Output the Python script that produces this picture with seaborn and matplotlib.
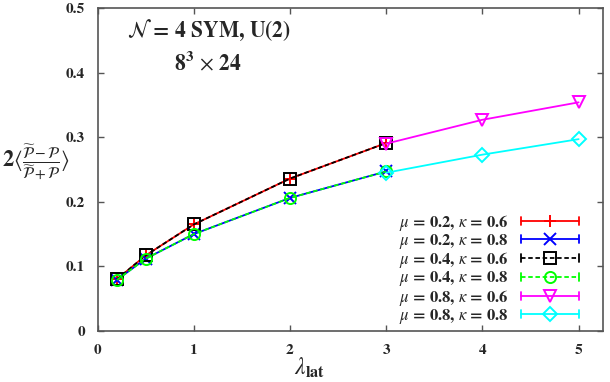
import numpy as np
import pandas as pd
import matplotlib
matplotlib.use("Agg")
import matplotlib.pyplot as plt
import seaborn as sns
from matplotlib.lines import Line2D
from matplotlib.legend_handler import HandlerLine2D

# ---------------- data ----------------
lam_low = [0.2, 0.5, 1, 2, 3]
lam_high = [3, 4, 5]

mu02_k06 = [0.080, 0.117, 0.165, 0.236, 0.291]
mu02_k08 = [0.079, 0.112, 0.150, 0.206, 0.247]
mu04_k06 = [0.080, 0.117, 0.165, 0.236, 0.291]
mu04_k08 = [0.079, 0.112, 0.150, 0.206, 0.247]
mu08_k06 = [0.290, 0.327, 0.354]
mu08_k08 = [0.245, 0.273, 0.297]

labels = [r"$\mu$ = 0.2, $\kappa$ = 0.6",
          r"$\mu$ = 0.2, $\kappa$ = 0.8",
          r"$\mu$ = 0.4, $\kappa$ = 0.6",
          r"$\mu$ = 0.4, $\kappa$ = 0.8",
          r"$\mu$ = 0.8, $\kappa$ = 0.6",
          r"$\mu$ = 0.8, $\kappa$ = 0.8"]

xticks = [0, 1, 2, 3, 4, 5]
yticks = [0, 0.1, 0.2, 0.3, 0.4, 0.5]

# ---------------- style ----------------
sns.set_style("ticks")
plt.rcParams["font.family"] = ["STIXGeneral", "DejaVu Sans"]
plt.rcParams["mathtext.fontset"] = "stix"

fig = plt.figure(figsize=(6.1, 3.82), dpi=100)
ax = fig.add_axes([0.160, 0.1335, 0.828, 0.8455])

series = [
    (lam_low, mu02_k06, "#ff0000", "+", "-", dict()),
    (lam_low, mu02_k08, "#0000ff", "x", "-", dict()),
    (lam_low, mu04_k06, "#000000", "s", (0, (2.5, 1.5)), dict(markerfacecolor="none")),
    (lam_low, mu04_k08, "#00ff00", "o", (0, (2.5, 1.5)), dict(markerfacecolor="none")),
    (lam_high, mu08_k06, "#ff00ff", "v", "-", dict(markerfacecolor="none")),
    (lam_high, mu08_k08, "#00ffff", "D", "-", dict(markerfacecolor="none")),
]

for (xs, ys, c, m, ls, extra), lab in zip(series, labels):
    df = pd.DataFrame({"x": xs, "y": ys})
    ms = 9 if m in "+x" else (8 if m in "sov" else 7)
    sns.lineplot(data=df, x="x", y="y", ax=ax, color=c, marker=m, linestyle=ls,
                 linewidth=1.3, markersize=ms, markeredgecolor=c,
                 markeredgewidth=1.4, label=lab, **extra)


class CapHandler(HandlerLine2D):
    def create_artists(self, legend, orig_handle, xdescent, ydescent,
                       width, height, fontsize, trans):
        arts = super().create_artists(legend, orig_handle, xdescent, ydescent,
                                      width, height, fontsize, trans)
        y = (height - ydescent) / 2.0
        h = 0.24 * fontsize
        for xx in (-xdescent, width - xdescent):
            cap = Line2D([xx, xx], [y - h, y + h], color=orig_handle.get_color(),
                         linewidth=1.3)
            cap.set_transform(trans)
            arts.append(cap)
        return arts


leg = ax.legend(loc="lower right", bbox_to_anchor=(0.976, -0.02),
                handler_map={Line2D: CapHandler()}, markerfirst=False,
                frameon=False, fontsize=12, handlelength=3.5,
                labelspacing=-0.05, handletextpad=0.7, borderpad=0.2)
for t in leg.get_texts():
    t.set_fontweight("bold")

ax.set_xlim(0, 5.25)
ax.set_ylim(0, 0.5)
ax.set_xticks(xticks)
ax.set_yticks(yticks)
ax.set_xticklabels([str(v) for v in xticks], fontweight="bold", fontsize=11)
ax.set_yticklabels(["0" if v == 0 else f"{v:.1f}" for v in yticks],
                   fontweight="bold", fontsize=11)
ax.tick_params(direction="in", top=True, right=True, length=4, width=1,
               color="#555555")
ax.tick_params(axis="x", pad=9)
ax.tick_params(axis="y", pad=9)
for sp in ax.spines.values():
    sp.set_visible(True)
    sp.set_color("#555555")
    sp.set_linewidth(1.2)

ax.set_xlabel(r"$\lambda_{\mathbf{lat}}$", fontsize=17, va="center")
ax.xaxis.set_label_coords(0.42, -0.115)
ax.set_ylabel(r"$\mathbf{2}\langle\frac{\widetilde{\mathcal{P}}-\mathcal{P}}{\widetilde{\mathcal{P}}+\mathcal{P}}\rangle$",
              rotation=0, fontsize=16, ha="center", va="center")
ax.yaxis.set_label_coords(-0.122, 0.52)

ax.text(0.221, 0.93, r"$\mathcal{N}$ = 4 SYM, U(2)", transform=ax.transAxes,
        ha="center", va="center", fontsize=15.5, fontweight="bold")
ax.text(0.219, 0.83, r"$\mathbf{8^3}\,\times\,\mathbf{24}$", transform=ax.transAxes,
        ha="center", va="center", fontsize=15.5)

fig.savefig("out.png", dpi=100)
